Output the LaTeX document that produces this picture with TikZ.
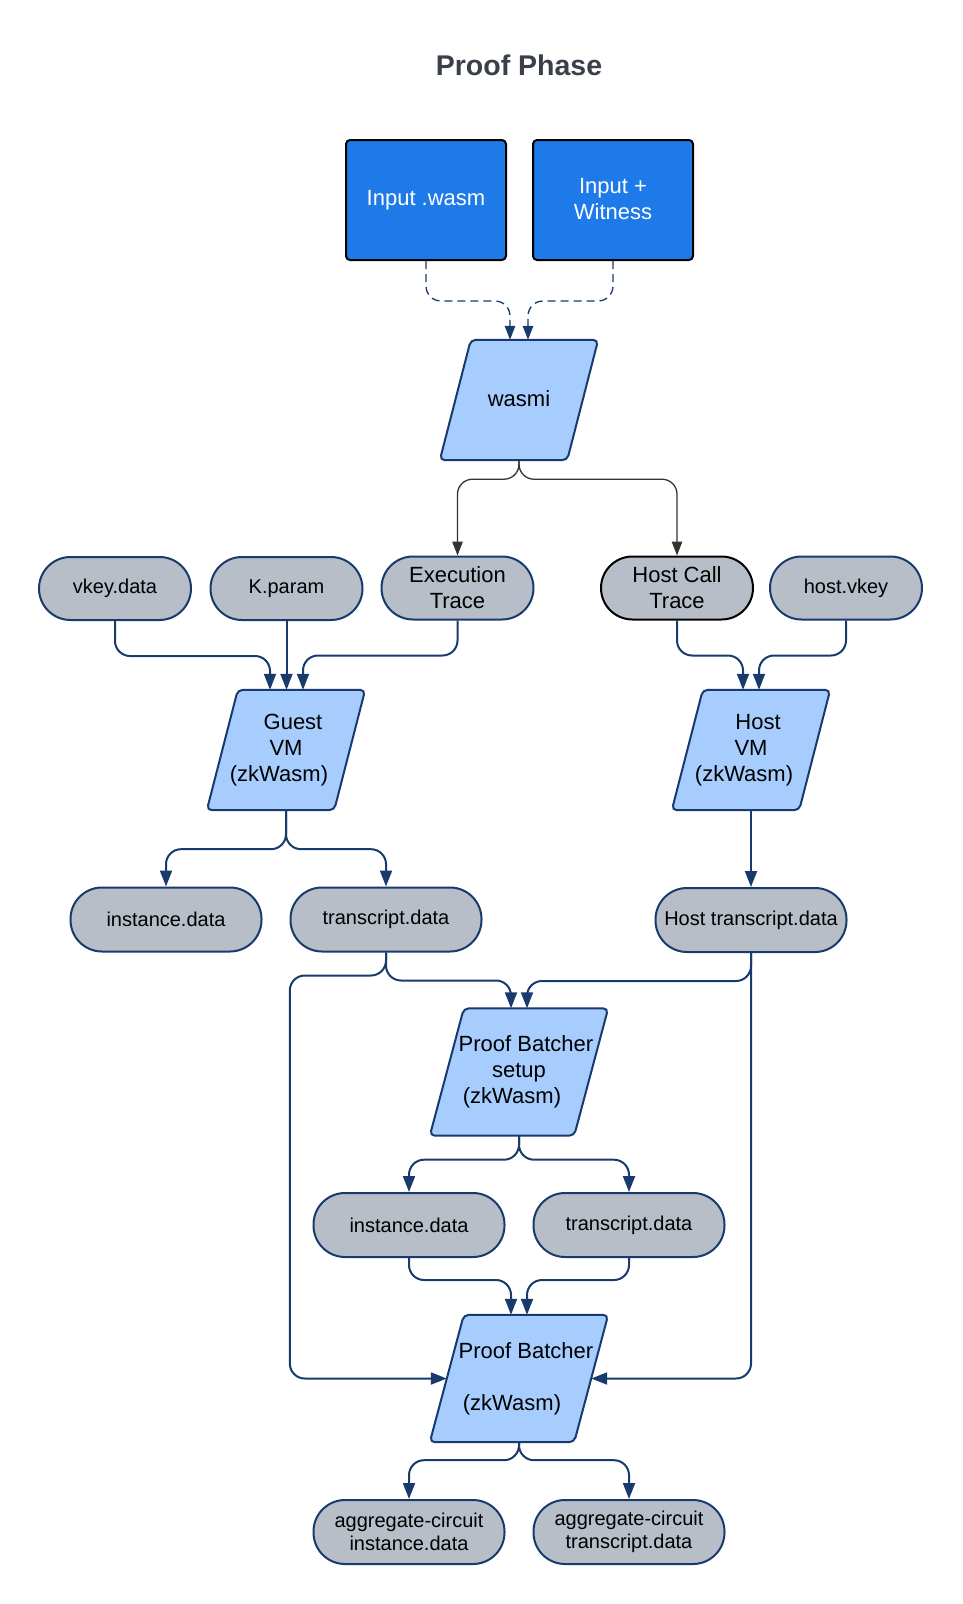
\documentclass[tikz,border=0pt]{standalone}
\usepackage{fontspec}
\setmainfont{Liberation Sans}
\usetikzlibrary{arrows.meta,backgrounds}
\definecolor{dkblue}{RGB}{24,58,108}
\definecolor{termfill}{RGB}{183,190,200}
\definecolor{pgfill}{RGB}{166,205,254}
\definecolor{infill}{RGB}{30,122,232}
\definecolor{garrow}{RGB}{51,51,51}
\definecolor{titlec}{RGB}{58,64,73}
\newcommand{\fbig}{\fontsize{22}{26}\selectfont}
\newcommand{\fsmall}{\fontsize{20}{23.5}\selectfont}
\newcommand{\pgsh}{\makebox[14pt]{}}
\begin{document}
\begin{tikzpicture}[x=1pt,y=-1pt,
  inbox/.style={draw=black, line width=2pt, fill=infill, rounded corners=4pt, text=white, font=\fbig, align=center, minimum width=160pt, minimum height=120pt, inner sep=0pt},
  term/.style={draw=dkblue, line width=2pt, fill=termfill, rounded corners=31.5pt, minimum width=152pt, minimum height=63pt, align=center, inner sep=0pt, font=\fsmall},
  bigterm/.style={term, minimum width=191pt, minimum height=64pt},
  pgnode/.style={minimum width=158pt, minimum height=120pt, inner sep=0pt, align=center, font=\fbig},
  pgdraw/.style={draw=dkblue, line width=2pt, fill=pgfill, rounded corners=5pt},
  barr/.style={draw=dkblue, line width=2pt, rounded corners=15pt, -{Triangle[length=16pt,width=12pt]}},
  garr/.style={draw=garrow, line width=1.3pt, rounded corners=15pt, -{Triangle[length=14pt,width=10.5pt]}},
  darr/.style={draw=dkblue, line width=1.3pt, dash pattern=on 8pt off 5pt, rounded corners=15pt, -{Triangle[length=14pt,width=10.5pt]}},
]
\useasboundingbox (0,0) rectangle (962,1604);

\node[font=\fontsize{28.5}{34}\selectfont\bfseries, text=titlec] (title) at (519,65) {Proof Phase};

\node[inbox] (inw) at (426,200) {Input .wasm\rule[-3pt]{0pt}{0pt}};
\node[inbox] (inp) at (613,200) {Input +\\Witness\rule[-3pt]{0pt}{0pt}};
\node[pgnode] (wasmi) at (519,400) {wasmi\rule[-3pt]{0pt}{0pt}};

\node[term] (vkey) at (115,588.5) {vkey.data};
\node[term] (kp) at (286.5,588.5) {K.param};
\node[term, font=\fbig] (exec) at (457.5,588) {Execution\\Trace};
\node[term, font=\fbig, draw=black] (hct) at (677,588) {Host Call\\Trace};
\node[term] (hvk) at (846,588) {host.vkey};

\node[pgnode] (gvm) at (286,750) {\pgsh Guest\\VM\\(zkWasm)\pgsh\rule[-3pt]{0pt}{0pt}};
\node[pgnode] (hvm) at (751,750) {\pgsh Host\\VM\\(zkWasm)\pgsh\rule[-3pt]{0pt}{0pt}};

\node[bigterm] (inst1) at (166,919.5) {instance.data};
\node[bigterm] (tr1) at (386,919.5) {transcript.data};
\node[bigterm] (htr) at (751,920) {Host transcript.data};

\node[pgnode, minimum width=178pt, minimum height=127pt] (pbs) at (519,1072) {\pgsh Proof Batcher\\setup\\(zkWasm)\pgsh\rule[-3pt]{0pt}{0pt}};

\node[bigterm] (inst2) at (409,1225) {instance.data};
\node[bigterm] (tr2) at (629,1225) {transcript.data};

\node[pgnode, minimum width=178pt, minimum height=127pt] (pb) at (519,1378.5) {\pgsh Proof Batcher\\\mbox{}\\(zkWasm)\pgsh\rule[-3pt]{0pt}{0pt}};

\node[bigterm] (agi) at (409,1532) {aggregate-circuit\\instance.data};
\node[bigterm] (agt) at (629,1532) {aggregate-circuit\\transcript.data};

\coordinate (pbW) at ([xshift=17pt]pb.west);
\coordinate (pbE) at ([xshift=-17pt]pb.east);

\begin{pgfonlayer}{background}
\foreach \n/\s in {wasmi/31,gvm/31,hvm/31,pbs/34,pb/34}{
  \draw[pgdraw] ([xshift=\s pt]\n.north west) -- (\n.north east) -- ([xshift=-\s pt]\n.south east) -- (\n.south west) -- cycle;
}
\end{pgfonlayer}

\draw[darr] (inw.south) -- ++(0,40) -| ([xshift=-9pt]wasmi.north);
\draw[darr] (inp.south) -- ++(0,40) -| ([xshift=9pt]wasmi.north);
\draw[garr] (wasmi.south) -- ++(0,19) -| (exec.north);
\draw[garr] (wasmi.south) -- ++(0,19) -| (hct.north);
\draw[barr] (vkey.south) -- ++(0,35) -| ([xshift=-16pt]gvm.north);
\draw[barr] (kp.south) -- (kp.south |- gvm.north);
\draw[barr] (exec.south) -- ++(0,35) -| ([xshift=17pt]gvm.north);
\draw[barr] (hct.south) -- ++(0,35) -| ([xshift=-8pt]hvm.north);
\draw[barr] (hvk.south) -- ++(0,35) -| ([xshift=8pt]hvm.north);
\draw[barr] (gvm.south) -- ++(0,39) -| (inst1.north);
\draw[barr] (gvm.south) -- ++(0,39) -| (tr1.north);
\draw[barr] (hvm.south) -- (htr.north);
\draw[barr] (tr1.south) -- ++(0,28) -| ([xshift=-8pt]pbs.north);
\draw[barr] (htr.south) -- ++(0,28) -| ([xshift=8pt]pbs.north);
\draw[barr] (tr1.south) -- ++(0,23) -| ([xshift=-157pt]pbW) -- (pbW);
\draw[barr] (htr.south) -- (htr.south |- pbE) -- (pbE);
\draw[barr] (pbs.south) -- ++(0,24) -| (inst2.north);
\draw[barr] (pbs.south) -- ++(0,24) -| (tr2.north);
\draw[barr] (inst2.south) -- ++(0,22) -| ([xshift=-8pt]pb.north);
\draw[barr] (tr2.south) -- ++(0,22) -| ([xshift=8pt]pb.north);
\draw[barr] (pb.south) -- ++(0,18) -| (agi.north);
\draw[barr] (pb.south) -- ++(0,18) -| (agt.north);
\end{tikzpicture}
\end{document}
